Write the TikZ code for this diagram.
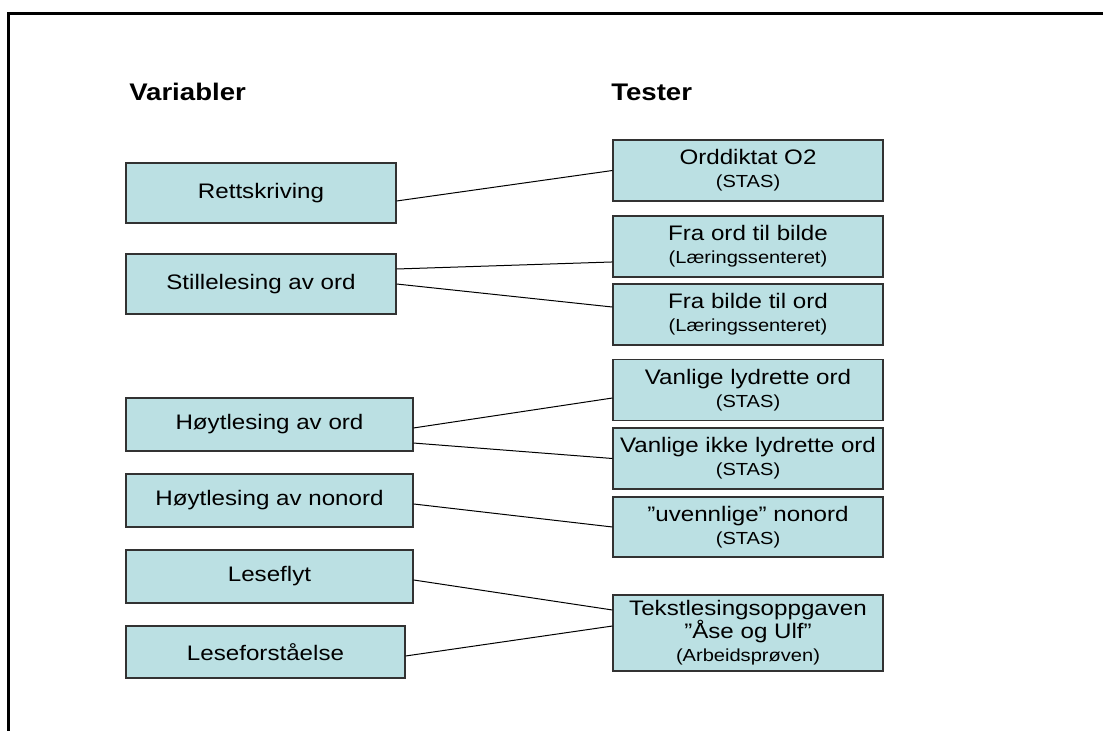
\documentclass[tikz,border=0pt]{standalone}
\usepackage{fontspec}
\setmainfont{Liberation Sans}[FakeStretch=1.15]
\definecolor{boxfill}{RGB}{187,224,227}
\definecolor{boxline}{RGB}{50,50,50}
\newcommand\smalltxt{\fontsize{13.1pt}{15pt}\selectfont}
\tikzset{
  box/.style={draw=boxline, fill=boxfill, line width=0.8pt, inner sep=0pt, align=center,
    font=\fontsize{15.75pt}{17.25pt}\selectfont},
  lbox/.style={box, minimum width=202.5pt, minimum height=45pt},
  mbox/.style={box, minimum width=215.25pt, minimum height=39.75pt},
  rbox/.style={box, minimum width=202.5pt, minimum height=45.75pt},
  conn/.style={draw=black, line width=0.75pt},
  head/.style={anchor=base west, inner sep=0pt, font=\fontsize{18pt}{20pt}\selectfont\bfseries},
  frame/.style={line width=2.25pt}
}
\begin{document}
\begin{tikzpicture}[x=0.75pt,y=-0.75pt]
\useasboundingbox (0,0) rectangle (1103,731);
\draw[frame] (8.5,731) -- (8.5,13.5) -- (1103,13.5);

\node[head] (hv) at (129,101) {Variabler};
\node[head] (ht) at (611,101) {Tester};

% left boxes
\node[lbox] (R) at (261,193) {Rettskriving};
\node[lbox] (S) at (261,284) {Stillelesing av ord};
\node[mbox] (H) at (269.5,424.5) {Høytlesing av ord};
\node[mbox] (N) at (269.5,500.5) {Høytlesing av nonord};
\node[mbox] (L) at (269.5,576.5) {Leseflyt};
\node[box, minimum width=209.25pt, minimum height=39pt] (F) at (265.5,652) {Leseforståelse};

% right boxes
\node[rbox] (O2) at (748,170.5) {Orddiktat O2\\{\smalltxt (STAS)}};
\node[rbox] (FoB) at (748,246.5) {Fra ord til bilde\\{\smalltxt (Læringssenteret)}};
\node[rbox] (FbO) at (748,314.5) {Fra bilde til ord\\{\smalltxt (Læringssenteret)}};
\node[rbox] (VL) at (748,390) {Vanlige lydrette ord\\{\smalltxt (STAS)}};
\node[rbox] (VI) at (748,458.5) {Vanlige ikke lydrette ord\\{\smalltxt (STAS)}};
\node[rbox, minimum height=45pt] (U) at (748,527) {”uvennlige” nonord\\{\smalltxt (STAS)}};
\node[rbox, minimum height=57pt] (T) at (748,633) {Tekstlesingsoppgaven\\”Åse og Ulf”\\{\smalltxt (Arbeidsprøven)}};

% connectors
\draw[conn] ([yshift=-6pt]R.east) -- (O2.west);
\draw[conn] ([yshift=11.25pt]S.east) -- ([yshift=-11.6pt]FoB.west);
\draw[conn] (S.east) -- ([yshift=5.6pt]FbO.west);
\draw[conn] ([yshift=-2.6pt]H.east) -- ([yshift=-6pt]VL.west);
\draw[conn] ([yshift=-13.9pt]H.east) -- (VI.west);
\draw[conn] ([yshift=-2.6pt]N.east) -- (U.west);
\draw[conn] ([yshift=-2.6pt]L.east) -- ([yshift=17.25pt]T.west);
\draw[conn] ([yshift=-3pt]F.east) -- ([yshift=5.25pt]T.west);
\end{tikzpicture}
\end{document}
